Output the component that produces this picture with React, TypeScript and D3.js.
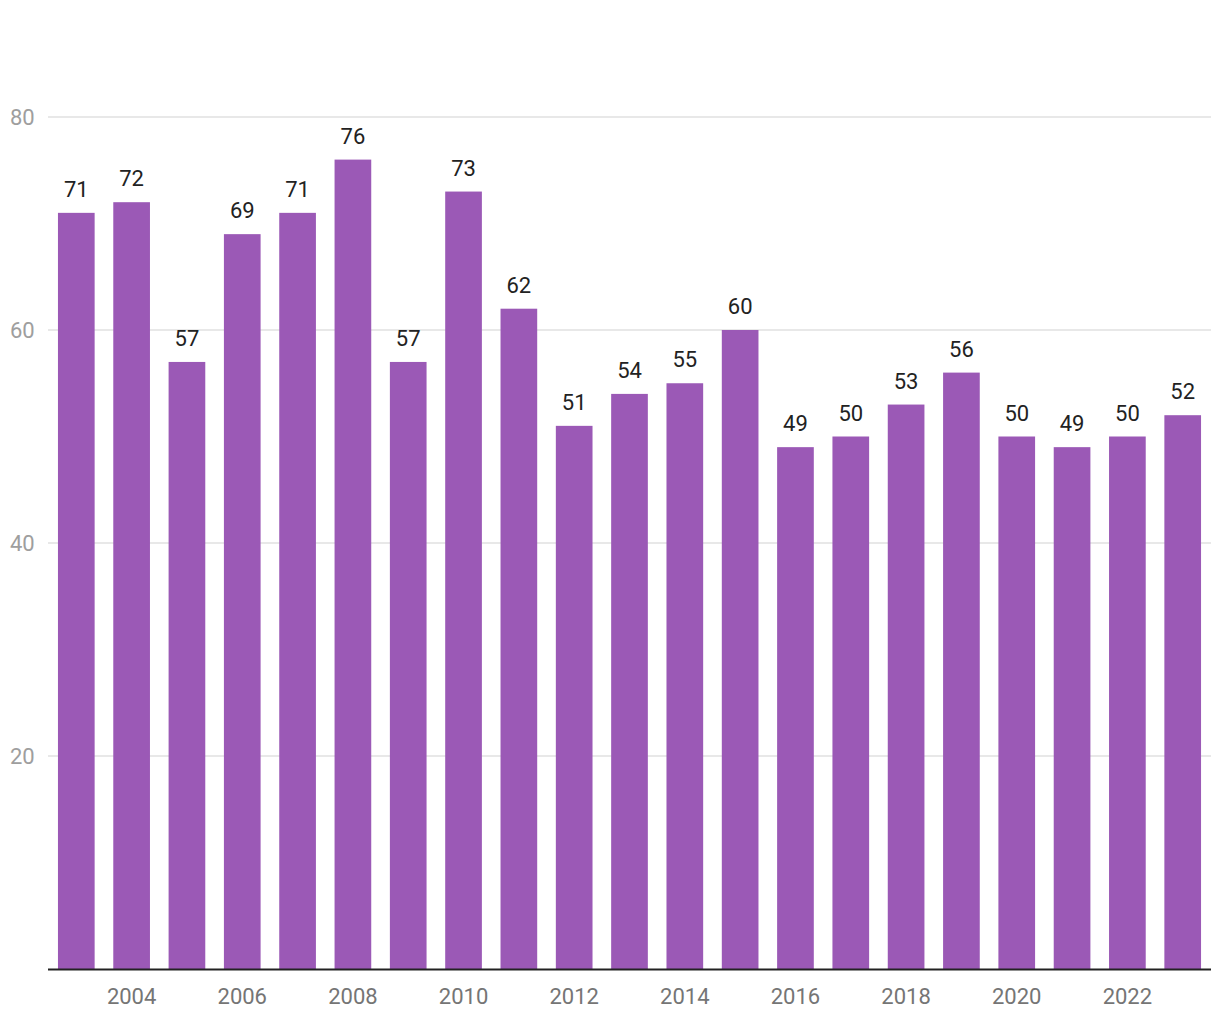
import React from "react";
import * as d3 from "d3";

const years = [2003,2004,2005,2006,2007,2008,2009,2010,2011,2012,2013,2014,2015,2016,2017,2018,2019,2020,2021,2022,2023];
const values = [71,72,57,69,71,76,57,73,62,51,54,55,60,49,50,53,56,50,49,50,52];
const yTicks = [20,40,60,80];
const xTickYears = [2004,2006,2008,2010,2012,2014,2016,2018,2020,2022];

export default function App() {
  const W = 1220, H = 1020;
  const left = 48, right = 1211, top = 117, bottom = 969;
  const x = d3.scaleBand<number>().domain(years).range([left, right]).paddingInner(0.337).paddingOuter(0.18);
  const y = d3.scaleLinear().domain([0, 80]).range([bottom, top]);
  const font = "Roboto, 'Noto Sans', sans-serif";
  return (
    <svg width={W} height={H} style={{ position: "absolute", left: 0, top: 0, background: "#fff" }} fontFamily={font}>
      {yTicks.map(t => (
        <g key={t}>
          <line x1={left} x2={right} y1={y(t)} y2={y(t)} stroke="#e0e0e0" strokeWidth={1.5} />
          <text x={10} y={y(t) + 8} fontSize={22} fill="#9e9e9e">{t}</text>
        </g>
      ))}
      {years.map((yr, i) => (
        <g key={yr}>
          <rect x={x(yr)} y={y(values[i])} width={x.bandwidth()} height={bottom - y(values[i])} fill="#9b59b6" />
          <text x={(x(yr) as number) + x.bandwidth() / 2} y={y(values[i]) - 16} fontSize={22} fill="#222" textAnchor="middle">{values[i]}</text>
        </g>
      ))}
      <line x1={left} x2={right} y1={bottom + 0.5} y2={bottom + 0.5} stroke="#222" strokeWidth={2} />
      {xTickYears.map(yr => (
        <text key={yr} x={(x(yr) as number) + x.bandwidth() / 2} y={1004} fontSize={22} fill="#757575" textAnchor="middle">{yr}</text>
      ))}
    </svg>
  );
}
